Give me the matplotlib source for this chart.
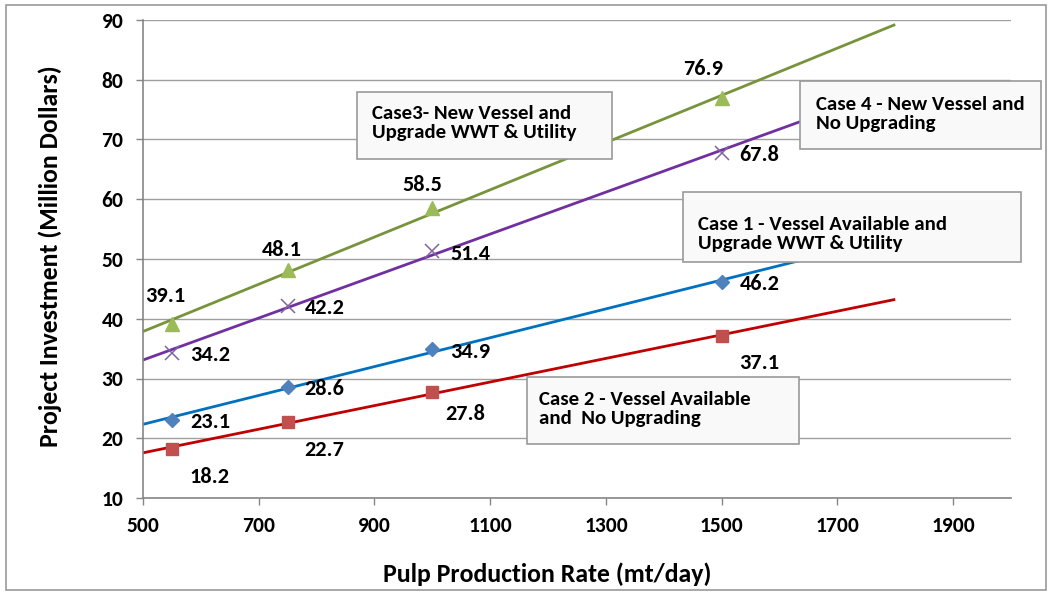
import numpy as np
import matplotlib
matplotlib.use("Agg")
import matplotlib.pyplot as plt
from matplotlib.patches import Rectangle
from matplotlib import font_manager

bold_path = None
for f in font_manager.fontManager.ttflist:
    if f.name == 'Carlito' and f.style == 'normal' and f.weight == 700:
        bold_path = f.fname
        break

def fp(size):
    if bold_path:
        return font_manager.FontProperties(fname=bold_path, size=size)
    return font_manager.FontProperties(family='DejaVu Sans', weight='bold', size=size)

# ---- data ----
rate = [550, 750, 1000, 1500]
case1 = [23.1, 28.6, 34.9, 46.2]
case2 = [18.2, 22.7, 27.8, 37.1]
case3 = [39.1, 48.1, 58.5, 76.9]
case4 = [34.2, 42.2, 51.4, 67.8]
trend_range = [500, 1800]
x_ticks = [500, 700, 900, 1100, 1300, 1500, 1700, 1900]
y_ticks = [10, 20, 30, 40, 50, 60, 70, 80, 90]
box_texts = {
    'case3': "Case3- New Vessel and\nUpgrade WWT & Utility",
    'case4': "Case 4 - New Vessel and\nNo Upgrading",
    'case1': "Case 1 - Vessel Available and\nUpgrade WWT & Utility",
    'case2': "Case 2 - Vessel Available\nand  No Upgrading",
}

W, H = 1052, 594
fig = plt.figure(figsize=(W / 100, H / 100), dpi=100)
ax = fig.add_axes([143 / W, 1 - 498 / H, (1011 - 143) / W, (498 - 20) / H])

# values, marker, marker colour, line colour, label offsets (px, up positive), marker size
series = [
    (case3, '^', '#9BBB59', '#77933C', [(-7, 28), (-6, 20), (-10, 23), (-19, 29)], 10),
    (case4, 'x', '#8064A2', '#7030A0', [(38, -2), (37, -2), (38, -3), (38, -2)], 9.5),
    (case1, 'D', '#4F81BD', '#0070C0', [(38, -2), (37, -2), (38, -3), (38, -2)], 7),
    (case2, 's', '#C0504D', '#C00000', [(38, -28), (37, -28), (33, -22), (38, -27)], 9),
]

tx = np.array(trend_range, dtype=float)
for vals, mk, mc, lc, offs, ms in series:
    coef = np.polyfit(rate, vals, 1)
    ax.plot(tx, np.polyval(coef, tx), color=lc, lw=2, zorder=2, solid_capstyle='butt')
    if mk == 'x':
        ax.plot(rate, vals, linestyle='none', marker=mk, color=mc, ms=ms, mew=1.1, zorder=3)
    else:
        ax.plot(rate, vals, linestyle='none', marker=mk, color=mc, ms=ms,
                markeredgecolor=mc, zorder=3)
    for xv, yv, (dx, dy) in zip(rate, vals, offs):
        ax.annotate(f"{yv:.1f}", (xv, yv), xytext=(dx, dy), textcoords='offset pixels',
                    ha='center', va='center', fontproperties=fp(16),
                    color='black', zorder=4)

ax.set_xlim(500, 2000)
ax.set_ylim(10, 90)
ax.set_xticks(x_ticks)
ax.set_yticks(y_ticks)
ax.tick_params(axis='both', colors='#868686', labelcolor='black',
               length=5, width=1, direction='out')
ax.tick_params(axis='x', pad=8)
ax.tick_params(axis='y', pad=9)
for lab in ax.get_xticklabels() + ax.get_yticklabels():
    lab.set_fontproperties(fp(15.5))
ax.grid(axis='y', color='#A0A0A0', lw=1)
ax.set_axisbelow(True)
for s in ['top', 'right']:
    ax.spines[s].set_visible(False)
for s in ['left', 'bottom']:
    ax.spines[s].set_color('#868686')
    ax.spines[s].set_linewidth(1.2)

ax.set_xlabel("Pulp Production Rate (mt/day)", fontproperties=fp(18.5))
ax.set_ylabel("Project Investment (Million Dollars)", fontproperties=fp(18.5))
ax.xaxis.label.set_va('center')
ax.yaxis.label.set_va('center')
ax.xaxis.set_label_coords((547 - 143) / 868, -(574 - 498) / 478)
ax.yaxis.set_label_coords((50 - 143) / 868, (498 - 256) / 478)

# boxes: x0, y_top, x1, y_bottom, text left x, text centre y (pixels)
boxes = [
    ('case3', 357, 92, 612, 159, 372, 123),
    ('case4', 800, 81, 1041, 149, 816, 114),
    ('case1', 683, 192, 1021, 262, 698, 234),
    ('case2', 527, 377, 799, 444, 539, 409),
]
for key, x0, y0, x1, y1, tx0, ty0 in boxes:
    r = Rectangle((x0 / W, 1 - y1 / H), (x1 - x0) / W, (y1 - y0) / H,
                  transform=fig.transFigure, facecolor='#F9F9F9', edgecolor='#9A9A9A',
                  lw=1.2, zorder=10)
    fig.add_artist(r)
    fig.text(tx0 / W, 1 - ty0 / H, box_texts[key], fontproperties=fp(15),
             ha='left', va='center', linespacing=1.12, zorder=11)

fig.add_artist(Rectangle((6 / W, 4 / H), (1046 - 6) / W, (589 - 4) / H, transform=fig.transFigure,
                         facecolor='none', edgecolor='#9A9A9A', lw=1.2))

fig.savefig('out.png', dpi=100)
